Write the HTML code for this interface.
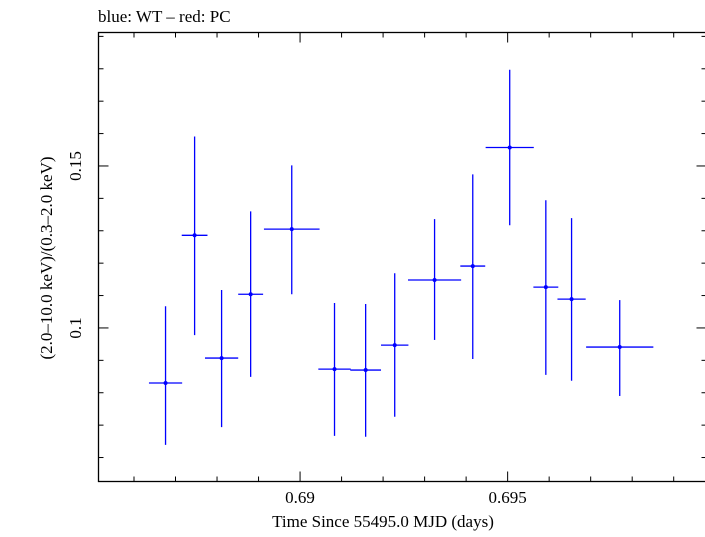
<!DOCTYPE html>
<html><head><meta charset="utf-8"><style>
html,body{margin:0;padding:0;background:#fff;}
svg text{font-family:"Liberation Serif",serif;fill:#000;}
</style></head><body>
<svg id="chart" width="705" height="532" viewBox="0 0 705 532" xmlns="http://www.w3.org/2000/svg">
<text x="98" y="22" font-size="17">blue: WT – red: PC</text>
<rect x="98.5" y="32.5" width="608" height="449" fill="none" stroke="#000" stroke-width="1.3"/>
<g id="axes"></g>
<g id="marks"></g>
<text x="383" y="527" font-size="17" text-anchor="middle">Time Since 55495.0 MJD (days)</text>
<text transform="translate(52,258) rotate(-90)" font-size="17" text-anchor="middle">(2.0–10.0 keV)/(0.3–2.0 keV)</text>
</svg>
<script>
const times=[0.68676,0.68746,0.68811,0.68881,0.68980,0.69083,0.69158,0.69228,0.69324,0.69416,0.69505,0.69592,0.69654,0.69770];
const timeErr=[0.0004,0.00031,0.0004,0.0003,0.00067,0.00039,0.00037,0.00033,0.00064,0.0003,0.00058,0.0003,0.00034,0.00081];
const ratios=[0.0830,0.1286,0.0907,0.1104,0.1305,0.0873,0.0870,0.0947,0.1148,0.1191,0.1557,0.1126,0.1089,0.0941];
const ratioLo=[0.0639,0.0978,0.0694,0.0849,0.1104,0.0667,0.0664,0.0726,0.0963,0.0904,0.1317,0.0855,0.0837,0.0790];
const ratioHi=[0.1067,0.1591,0.1117,0.1360,0.1502,0.1077,0.1074,0.1169,0.1336,0.1474,0.1797,0.1394,0.1339,0.1086];
const xTickLabels=["0.69","0.695"];
const xTickValues=[0.69,0.695];
const yTickLabels=["0.1","0.15"];
const yTickValues=[0.1,0.15];

const L=98.5,R=706.5,T=32.5,B=481.5;
const xMin=0.685145,xMax=0.69979,yMin=0.0526,yMax=0.1912;
const xs=v=>L+(v-xMin)/(xMax-xMin)*(R-L);
const ys=v=>B-(v-yMin)/(yMax-yMin)*(B-T);
const NS="http://www.w3.org/2000/svg";
const axes=document.getElementById('axes'),marks=document.getElementById('marks');
function line(p,x1,y1,x2,y2,c,w){const l=document.createElementNS(NS,'line');l.setAttribute('x1',x1);l.setAttribute('y1',y1);l.setAttribute('x2',x2);l.setAttribute('y2',y2);l.setAttribute('stroke',c);l.setAttribute('stroke-width',w);p.appendChild(l);return l;}
// x ticks
for(let i=Math.ceil(xMin*1000);i<=Math.floor(xMax*1000);i++){
  const v=i/1000,major=(i%5===0),len=major?10:5,x=xs(v);
  const t1=line(axes,x,B,x,B-len,'#000',1);
  
  
  const t2=line(axes,x,T,x,T+len,'#000',1);
  
  
}
xTickValues.forEach((v,i)=>{const t=document.createElementNS(NS,'text');t.setAttribute('x',xs(v));t.setAttribute('y',503);t.setAttribute('font-size','17');t.setAttribute('text-anchor','middle');t.textContent=xTickLabels[i];


axes.appendChild(t);});
for(let i=Math.ceil(yMin*100);i<=Math.floor(yMax*100);i++){
  const v=i/100,major=(i%5===0),len=major?10:5,y=ys(v);
  const t1=line(axes,L,y,L+len,y,'#000',1);
  
  
  const t2=line(axes,R,y,R-len,y,'#000',1);
  
  
}
yTickValues.forEach((v,i)=>{const t=document.createElementNS(NS,'text');t.setAttribute('transform','translate(81,'+ys(v)+') rotate(-90)');t.setAttribute('font-size','17');t.setAttribute('text-anchor','middle');t.textContent=yTickLabels[i];


axes.appendChild(t);});
// data
times.forEach((t,i)=>{
  const g=document.createElementNS(NS,'g');
  
  
  line(g,xs(t-timeErr[i]),ys(ratios[i]),xs(t+timeErr[i]),ys(ratios[i]),'#0000ff',1.3);
  line(g,xs(t),ys(ratioLo[i]),xs(t),ys(ratioHi[i]),'#0000ff',1.3);
  const c=document.createElementNS(NS,'circle');c.setAttribute('cx',xs(t));c.setAttribute('cy',ys(ratios[i]));c.setAttribute('r',2);c.setAttribute('fill','#0000ff');g.appendChild(c);
  marks.appendChild(g);
});
</script>
</body></html>
